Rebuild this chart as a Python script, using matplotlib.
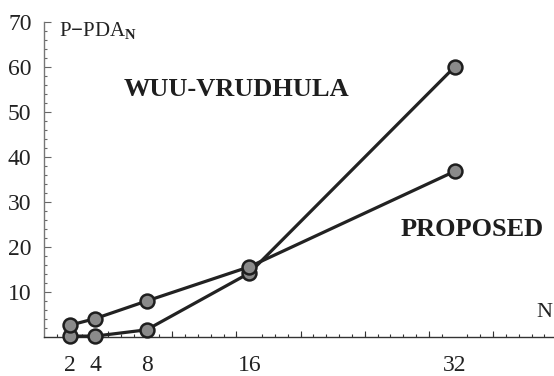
import matplotlib.pyplot as plt
import numpy as np

plt.rcParams['font.family'] = ['Liberation Serif', 'DejaVu Serif']
plt.rcParams['mathtext.fontset'] = 'custom'
plt.rcParams['mathtext.rm'] = 'Liberation Serif'
plt.rcParams['mathtext.bf'] = 'Liberation Serif:bold'

n_values = [2, 4, 8, 16, 32]
wuu_vrudhula = [0.2, 0.2, 1.6, 14.2, 60.0]
proposed = [2.6, 4.1, 8.0, 15.6, 36.8]
x_tick_labels = ['2', '4', '8', '16', '32']
y_tick_values = [10, 20, 30, 40, 50, 60, 70]

fig = plt.figure(figsize=(5.54, 3.76), dpi=100)
ax = fig.add_axes([44 / 554, 39 / 376, 1 - 44 / 554, 315 / 376])

line_kw = dict(color='#222222', lw=2.3, marker='o', markersize=10,
               markerfacecolor='#8a8a8a', markeredgecolor='#1e1e1e',
               markeredgewidth=1.8, clip_on=False, zorder=3)
ax.plot(n_values, wuu_vrudhula, **line_kw)
ax.plot(n_values, proposed, **line_kw)

ax.set_xlim(0, 39.75)
ax.set_ylim(0, 70)

for s in ['top', 'right']:
    ax.spines[s].set_visible(False)
ax.spines['left'].set_color('#777777')
ax.spines['bottom'].set_color('#333333')
ax.spines['left'].set_linewidth(1.0)
ax.spines['bottom'].set_linewidth(1.0)

# x: labels without marks, small ticks every 1, medium ticks every 5
ax.set_xticks(n_values)
ax.set_xticklabels(x_tick_labels)
ax.tick_params(axis='x', which='major', length=0, pad=13, labelsize=17, colors='#222222')
ax.set_xticks(np.arange(1, 40, 1), minor=True)
ax.tick_params(axis='x', which='minor', direction='in', length=2, width=0.8, color='#333333')
sec = ax.secondary_xaxis(0)
sec.set_xticks(np.arange(5, 40, 5))
sec.set_xticklabels([])
sec.tick_params(direction='in', length=4, width=0.8, color='#333333')
sec.spines['bottom'].set_visible(False)

# y
ax.set_yticks(y_tick_values)
ax.set_yticks(np.arange(2, 70, 2), minor=True)
ax.tick_params(axis='y', which='major', direction='in', length=5, width=0.8,
               color='#666666', pad=9, labelsize=17, labelcolor='#222222')
ax.tick_params(axis='y', which='minor', direction='in', length=2.5, width=0.8, color='#666666')

ax.text(1.2, 68.0, r'P$\mathbf{-}$PDA$_{\mathbf{N}}$', fontsize=15, color='#222222', va='center', ha='left')
ax.text(38.4, 5.4, 'N', fontsize=16, color='#222222', va='center', ha='left', clip_on=False)
ax.text(15.0, 54.9, 'WUU-VRUDHULA', fontsize=19, fontweight='bold', color='#1e1e1e',
        ha='center', va='center')
ax.text(33.4, 23.8, 'PROPOSED', fontsize=19, fontweight='bold', color='#1e1e1e',
        ha='center', va='center')

fig.savefig('out.png', dpi=100)
